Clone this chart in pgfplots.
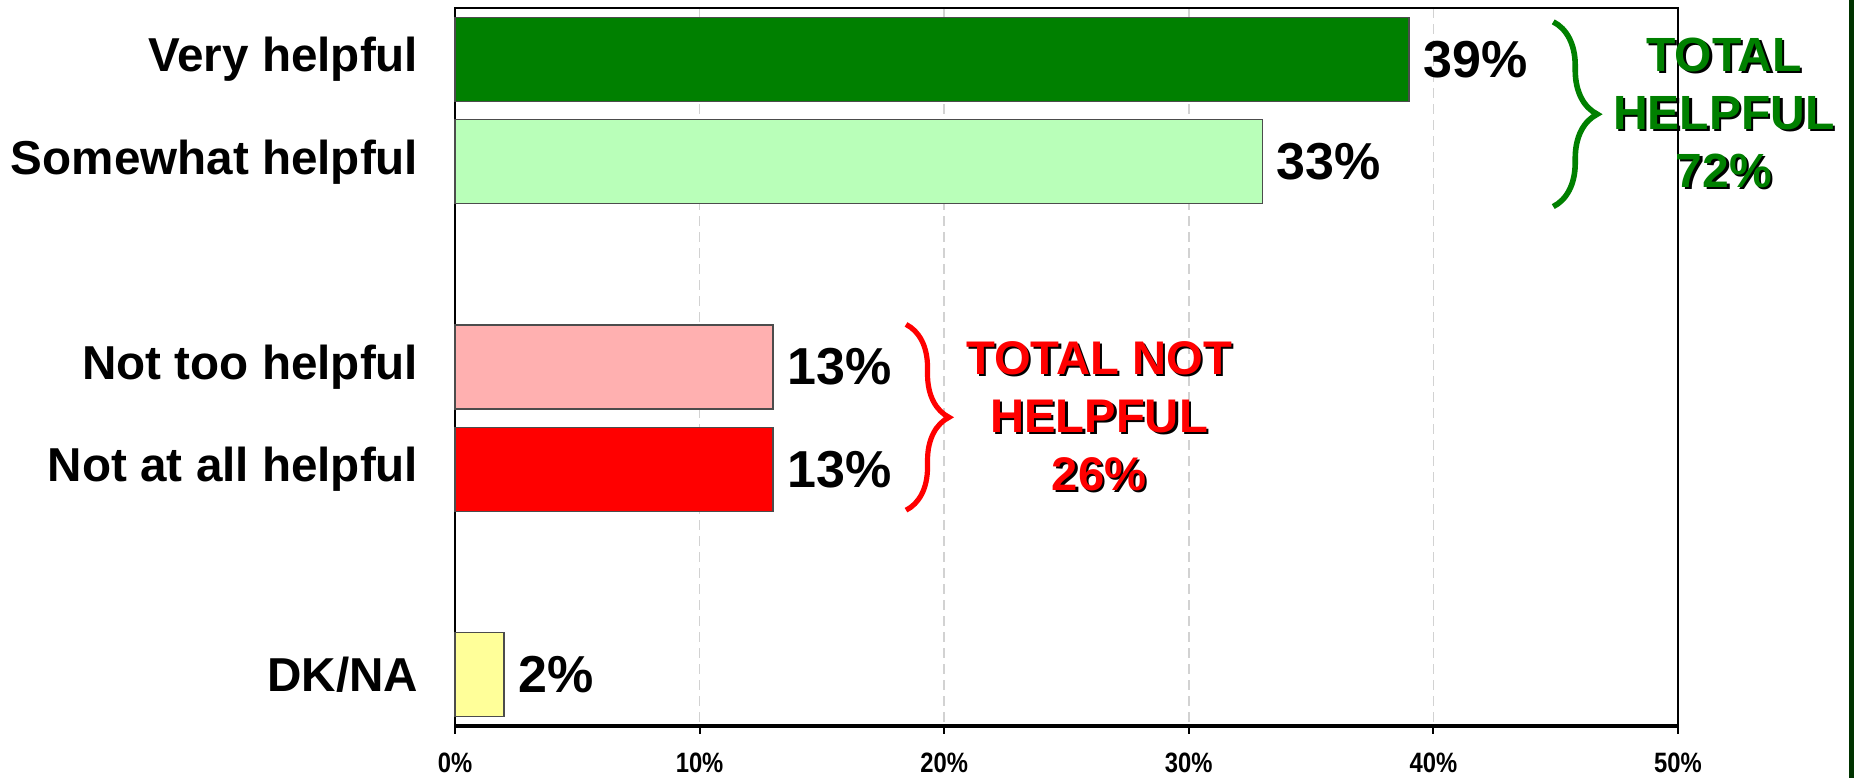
\documentclass[border=0pt]{standalone}
\usepackage{fontspec}
\setmainfont{Liberation Sans}
\newfontfamily\narrowfont{Liberation Sans}[FakeStretch=0.85]
\usepackage{pgfplots}
\pgfplotsset{compat=1.18}
\usetikzlibrary{decorations.pathreplacing}
\definecolor{vgreen}{RGB}{0,128,0}
\definecolor{lgreen}{RGB}{185,255,185}
\definecolor{lred}{RGB}{255,176,176}
\definecolor{vred}{RGB}{255,0,0}
\definecolor{lyellow}{RGB}{255,255,153}
\definecolor{edgegreen}{RGB}{0,51,0}
\begin{document}
\begin{tikzpicture}
\useasboundingbox (-113.75pt,-13pt) rectangle (349.75pt,181.5pt);
\fill[edgegreen] (348.5pt,-13pt) rectangle (349.75pt,181.5pt);
\begin{axis}[
  at={(0pt,0pt)}, anchor=south west,
  width=305.75pt, height=179.5pt, scale only axis,
  xmin=0, xmax=50, ymin=-0.5, ymax=6.5, y dir=reverse,
  xbar, bar width=21pt, bar shift=0pt,
  clip=false,
  axis line style={black, line width=0.5pt},
  ytick={0,1,3,4,6},
  yticklabels={Very helpful,Somewhat helpful,Not too helpful,Not at all helpful,DK/NA},
  ytick style={draw=none},
  yticklabel style={font=\bfseries\fontsize{11.9}{14}\selectfont, anchor=east, inner sep=0pt, xshift=-7pt},
  xtick={0,10,20,30,40,50},
  xticklabels={0\%,10\%,20\%,30\%,40\%,50\%},
  xtick pos=bottom, tick align=outside, major tick length=2pt,
  xtick style={black, line width=0.5pt},
  xticklabel style={font=\narrowfont\bfseries\fontsize{7}{8}\selectfont, anchor=center, yshift=-7.25pt},
  xmajorgrids,
  grid style={gray!35, line width=0.4pt, dash pattern=on 2.5pt off 1.5pt},
  point meta=x,
  nodes near coords={\pgfmathprintnumber[assume math mode=true]{\pgfplotspointmeta}\%},
  nodes near coords style={font=\bfseries\fontsize{13}{15}\selectfont, anchor=west, inner sep=0pt, xshift=3.5pt},
]
\addplot[fill=vgreen, draw=black!70, line width=0.3pt] coordinates {(39,0)};
\addplot[fill=lgreen, draw=black!70, line width=0.3pt] coordinates {(33,1)};
\addplot[fill=lred, draw=black!70, line width=0.3pt] coordinates {(13,3)};
\addplot[fill=vred, draw=black!70, line width=0.3pt] coordinates {(13,4)};
\addplot[fill=lyellow, draw=black!70, line width=0.3pt] coordinates {(2,6)};
\draw[black, line width=1pt] (axis cs:0,6.5) -- (axis cs:50,6.5);
\draw[vgreen, line width=1.4pt, decorate, decoration={brace, amplitude=11pt}] (axis cs:44.9,-0.365) -- (axis cs:44.9,1.436);
\draw[vred, line width=1.3pt, decorate, decoration={brace, amplitude=10.75pt}] (axis cs:18.44,2.585) -- (axis cs:18.44,4.396);
\node[text=black, align=center, font=\bfseries\fontsize{12}{14.5}\selectfont] at ([xshift=0.6pt,yshift=-0.6pt]axis cs:51.88,0.52) {TOTAL\\HELPFUL\\72\%};
\node[text=vgreen, align=center, font=\bfseries\fontsize{12}{14.5}\selectfont] at (axis cs:51.88,0.52) {TOTAL\\HELPFUL\\72\%};
\node[text=black, align=center, font=\bfseries\fontsize{11.8}{14.5}\selectfont] at ([xshift=0.6pt,yshift=-0.6pt]axis cs:26.33,3.48) {TOTAL NOT\\HELPFUL\\26\%};
\node[text=vred, align=center, font=\bfseries\fontsize{11.8}{14.5}\selectfont] at (axis cs:26.33,3.48) {TOTAL NOT\\HELPFUL\\26\%};
\end{axis}
\end{tikzpicture}
\end{document}
